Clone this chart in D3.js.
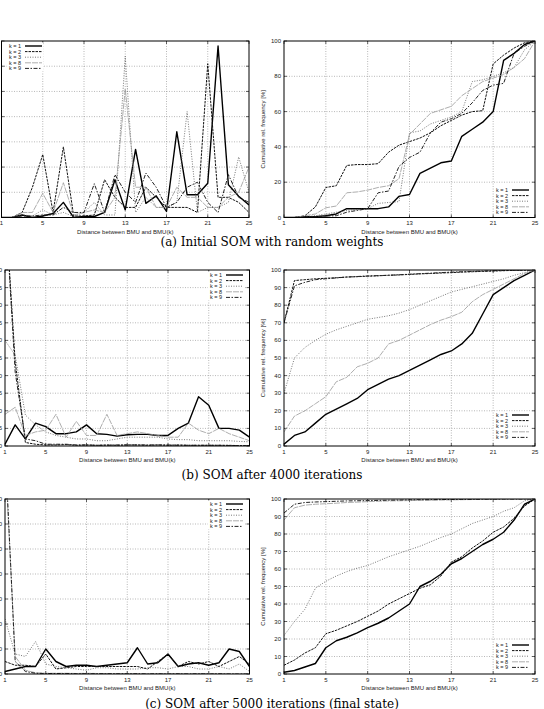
<!DOCTYPE html>
<html>
<head>
<meta charset="utf-8">
<script src="https://cdn.jsdelivr.net/npm/d3@7"></script>
<style>
  body { margin: 0; background: #fff; }
  svg { display: block; }
</style>
</head>
<body>
<script>
const width = 544;
const height = 709;

const distances = [1, 2, 3, 4, 5, 6, 7, 8, 9, 10, 11, 12, 13, 14, 15, 16, 17, 18, 19, 20, 21, 22, 23, 24, 25];
const xTicks = [1, 5, 9, 13, 17, 21, 25];
const seriesNames = ["k = 1", "k = 2", "k = 3", "k = 8", "k = 9"];

// (a) initial SOM, relative frequency [%]
const initFreq = [
  [0, 0, 0.5, 0, 0.3, 0.8, 3, 0, 0.2, 0.2, 1, 7.5, 1.5, 13.5, 2.8, 4.3, 1.2, 17, 4.5, 4.5, 6.8, 34, 6.5, 4.2, 2.5],
  [0, 0, 1, 6, 12.5, 1, 14, 0.3, 0.3, 0.5, 7.5, 4, 2, 2, 6, 4, 2, 2, 2, 1, 30.5, 4, 4, 3, 1],
  [0, 0, 0.5, 0.3, 1.5, 0.5, 1, 0.2, 1, 3, 0.5, 0.5, 32, 1, 4, 2, 2, 3, 21, 1, 2, 2, 3, 12, 5],
  [0, 0, 1, 1, 4.8, 1, 6.9, 0.5, 1, 1.5, 1, 4, 25.5, 6, 6, 2, 2, 6, 4, 4, 2, 2, 4, 5, 10],
  [0, 0, 0.3, 0.3, 0.5, 0.5, 2, 1, 1, 6.7, 1, 8.5, 5, 3, 8.8, 6, 2, 3, 6, 7, 3, 1, 8.5, 4, 3]
];
const initCum = [
  [0, 0, 0.5, 0.5, 1, 2, 5, 5, 5, 5, 6, 12, 13, 25, 28, 31, 32, 46, 50, 54, 60, 89, 93, 98, 100],
  [0, 0, 1, 6, 17, 18, 29.5, 30, 30, 30.5, 37, 41, 43, 45, 48, 52, 55, 58, 60, 60.5, 87, 92, 96, 99, 100],
  [0, 0, 0.5, 1, 2, 3, 4, 4.5, 5, 8, 8.5, 9, 48, 49, 53, 55, 57, 60, 77, 78, 80, 82, 85, 95, 100],
  [0, 0, 1, 2, 5.5, 6.5, 14, 14.5, 15.5, 17, 18, 22, 47, 53, 59, 61, 63, 69, 73, 77, 79, 81, 85, 90, 100],
  [0, 0, 0.3, 0.5, 0.8, 1, 3, 4, 5, 14, 15, 29, 34, 37, 48, 54, 56, 59, 65, 72, 75, 76, 93, 97, 100]
];

// (b) after 4000 iterations
const midFreq = [
  [0.5, 6, 2, 6.5, 5.5, 3.5, 3.5, 4, 6, 3.5, 3.3, 2.8, 3.2, 3.3, 3.3, 3, 3, 5, 6.5, 14, 11.6, 5, 5, 4.5, 2.5],
  [70, 24, 1, 0.5, 0.3, 0.3, 0.4, 0.2, 0.3, 0.2, 0.3, 0.2, 0.3, 0.3, 0.2, 0.3, 0.2, 0.3, 0.2, 0.2, 0.2, 0.2, 0.2, 0.1, 0.1],
  [30, 25.8, 8.8, 6, 4, 3, 2.5, 2, 2, 1.5, 1.5, 2, 2.5, 2.5, 2.5, 2.5, 2, 1.8, 1.8, 1.5, 1.5, 1.5, 1.5, 1.3, 1.2],
  [9, 11, 3, 4, 4.5, 9, 2.5, 7, 3, 3, 9, 3, 3.5, 4, 3.5, 3, 2.5, 2.5, 6.5, 4.5, 3.5, 5, 3.5, 2.5, 1.5],
  [70, 21, 2, 1.5, 0.5, 0.5, 0.5, 0.3, 0.3, 0.2, 0.2, 0.3, 0.3, 0.3, 0.3, 0.3, 0.3, 0.2, 0.2, 0.2, 0.2, 0.2, 0.1, 0.1, 0]
];
const midCum = [
  [1, 6, 8, 13, 18, 21, 24, 27, 32, 35, 38, 40, 43, 46, 49, 52, 54, 58, 64, 75, 86, 90, 94, 97, 100],
  [70, 94, 94.5, 95, 95.3, 95.6, 96, 96.2, 96.5, 96.7, 97, 97.2, 97.5, 97.8, 98, 98.3, 98.5, 98.8, 99, 99.2, 99.4, 99.6, 99.8, 99.9, 100],
  [30, 50, 56, 60, 63.5, 66, 68, 70, 72, 73, 74, 75.5, 77.5, 80, 82.5, 85, 87.5, 89, 90.5, 92, 93.5, 95, 97, 98.5, 100],
  [8, 17, 20, 24, 28, 36.5, 39, 45, 47, 50, 58, 60, 63, 66, 69, 71.5, 73.5, 76, 82, 86, 89, 92, 95, 98, 100],
  [70, 91, 93, 94.5, 95, 95.5, 96, 96.3, 96.6, 96.8, 97, 97.3, 97.6, 97.9, 98.2, 98.5, 98.8, 99, 99.2, 99.4, 99.6, 99.8, 99.9, 100, 100]
];

// (c) after 5000 iterations
const finalFreq = [
  [1, 2, 3, 3, 10, 5, 3, 3.5, 3.5, 3, 3.5, 4, 4.5, 10.5, 4, 4.5, 8, 3, 4, 4.5, 3.5, 4.5, 10, 9, 3],
  [5, 3.5, 3.5, 3, 8, 2, 2.5, 3, 3, 3, 3, 3, 3, 3, 2, 5, 8, 3, 5, 4, 5, 3, 5, 7, 4],
  [22, 8, 7, 13, 4, 3, 2.5, 2, 1.5, 2.5, 2.5, 2, 2, 2, 2.5, 2.5, 2, 3, 3, 2, 2, 3, 2, 4, 1],
  [88, 7, 1.5, 0.5, 0.3, 0.3, 0.3, 0.2, 0.3, 0.2, 0.2, 0.1, 0.1, 0.1, 0.1, 0.1, 0.1, 0.1, 0.1, 0.1, 0.1, 0, 0.1, 0, 0],
  [92, 5, 1, 0.3, 0.2, 0.2, 0.2, 0.1, 0.1, 0.1, 0.1, 0.1, 0.1, 0.1, 0, 0.1, 0, 0.1, 0, 0.1, 0, 0.1, 0, 0, 0]
];
const finalCum = [
  [1, 2, 4, 6, 15, 19, 21, 23.5, 26.5, 29, 32, 36, 40, 50, 53, 57, 63, 66, 70, 74, 77, 81, 88, 97, 100],
  [5, 8, 12, 15, 23, 25, 27.5, 30, 33, 36, 40, 43, 46, 49, 51, 56, 64, 67, 72, 76, 81, 84, 89, 96, 100],
  [22, 30, 37, 49, 53, 56, 58.5, 60.5, 62, 64.5, 67, 69, 71, 73, 75.5, 78, 80, 83, 86, 88, 90, 93, 95, 99, 100],
  [88, 95, 96.5, 97, 97.3, 97.6, 98, 98.2, 98.5, 98.7, 98.9, 99, 99.1, 99.2, 99.3, 99.4, 99.5, 99.6, 99.7, 99.8, 99.9, 99.9, 100, 100, 100],
  [92, 97, 98, 98.3, 98.5, 98.7, 98.9, 99, 99.1, 99.2, 99.3, 99.4, 99.5, 99.6, 99.6, 99.7, 99.7, 99.8, 99.8, 99.9, 99.9, 100, 100, 100, 100]
];

const captions = [
  "(a) Initial SOM with random weights",
  "(b) SOM after 4000 iterations",
  "(c) SOM after 5000 iterations (final state)"
];

// gnuplot-like monochrome line styles, one per k
const lineStyles = [
  { stroke: "#000", width: 1.4, dash: null },
  { stroke: "#111", width: 1.0, dash: "2.5,1" },
  { stroke: "#555", width: 0.8, dash: "1,1.5" },
  { stroke: "#999", width: 0.8, dash: "6,1" },
  { stroke: "#222", width: 1.0, dash: "4,1.5,1.5,1.5" }
];

const font = "'Liberation Sans', Arial, sans-serif";

const svg = d3.select("body").append("svg")
  .attr("width", width)
  .attr("height", height);

let clipId = 0;

const drawPanel = (p) => {
  const x = d3.scaleLinear().domain([1, 25]).range([p.left, p.right]);
  const y = d3.scaleLinear().domain([0, p.yMax]).range([p.bottom, p.top]);
  const yTicks = d3.range(0, p.yMax + 0.001, p.yStep);
  const g = svg.append("g");

  // grid
  g.append("g").selectAll("line.gx")
    .data(xTicks.slice(1, -1))
    .join("line")
    .attr("x1", d => x(d)).attr("x2", d => x(d))
    .attr("y1", p.top).attr("y2", p.bottom)
    .attr("stroke", "#888").attr("stroke-width", 0.6)
    .attr("stroke-dasharray", "1,1.5");
  g.append("g").selectAll("line.gy")
    .data(yTicks.slice(1, -1))
    .join("line")
    .attr("x1", p.left).attr("x2", p.right)
    .attr("y1", d => y(d)).attr("y2", d => y(d))
    .attr("stroke", "#888").attr("stroke-width", 0.6)
    .attr("stroke-dasharray", "1,1.5");

  // tick marks on all sides (inward)
  const tk = g.append("g").attr("stroke", "#000").attr("stroke-width", 0.6);
  xTicks.forEach(d => {
    tk.append("line").attr("x1", x(d)).attr("x2", x(d)).attr("y1", p.bottom).attr("y2", p.bottom - 3);
    tk.append("line").attr("x1", x(d)).attr("x2", x(d)).attr("y1", p.top).attr("y2", p.top + 3);
  });
  yTicks.forEach(d => {
    tk.append("line").attr("x1", p.left).attr("x2", p.left + 3).attr("y1", y(d)).attr("y2", y(d));
    tk.append("line").attr("x1", p.right).attr("x2", p.right - 3).attr("y1", y(d)).attr("y2", y(d));
  });

  // tick labels
  g.append("g").selectAll("text")
    .data(xTicks)
    .join("text")
    .attr("x", d => x(d))
    .attr("y", p.bottom + 7.5)
    .attr("text-anchor", "middle")
    .attr("font-family", font).attr("font-size", 6).attr("fill", "#222")
    .text(d => d);
  g.append("g").selectAll("text")
    .data(yTicks)
    .join("text")
    .attr("x", p.left - 3)
    .attr("y", d => y(d) + 2)
    .attr("text-anchor", "end")
    .attr("font-family", font).attr("font-size", 6).attr("fill", "#222")
    .text(d => d);

  // axis titles
  g.append("text")
    .attr("x", (p.left + p.right) / 2)
    .attr("y", p.bottom + 16)
    .attr("text-anchor", "middle")
    .attr("font-family", font).attr("font-size", 6).attr("fill", "#222")
    .text("Distance between BMU and BMU(k)");
  const yc = (p.top + p.bottom) / 2;
  g.append("text")
    .attr("transform", `translate(${p.left - 19},${yc}) rotate(-90)`)
    .attr("text-anchor", "middle")
    .attr("font-family", font).attr("font-size", 6).attr("fill", "#222")
    .text(p.yTitle);

  // lines
  const id = "clip" + (clipId++);
  svg.append("clipPath").attr("id", id)
    .append("rect")
    .attr("x", p.left).attr("y", p.top)
    .attr("width", p.right - p.left).attr("height", p.bottom - p.top);
  const line = d3.line().x((d, i) => x(distances[i])).y(d => y(d));
  const lg = g.append("g").attr("clip-path", `url(#${id})`);
  p.series.forEach((s, i) => {
    const st = lineStyles[i];
    lg.append("path")
      .attr("d", line(s))
      .attr("fill", "none")
      .attr("stroke", st.stroke)
      .attr("stroke-width", st.width)
      .attr("stroke-dasharray", st.dash)
      .attr("stroke-linejoin", "round");
  });

  // legend with white background
  const leg = g.append("g").attr("transform", `translate(${p.legX},${p.legY})`);
  leg.append("rect")
    .attr("x", -2).attr("y", -3.5)
    .attr("width", 36).attr("height", 5.6 * seriesNames.length + 1)
    .attr("fill", "#fff");
  seriesNames.forEach((name, i) => {
    const st = lineStyles[i];
    leg.append("text")
      .attr("x", 0).attr("y", i * 5.6 + 2)
      .attr("font-family", font).attr("font-size", 5.5).attr("fill", "#222")
      .text(name);
    leg.append("line")
      .attr("x1", 16).attr("x2", 33)
      .attr("y1", i * 5.6).attr("y2", i * 5.6)
      .attr("stroke", st.stroke)
      .attr("stroke-width", st.width)
      .attr("stroke-dasharray", st.dash);
  });

  // frame
  g.append("rect")
    .attr("x", p.left).attr("y", p.top)
    .attr("width", p.right - p.left).attr("height", p.bottom - p.top)
    .attr("fill", "none").attr("stroke", "#000").attr("stroke-width", 1);
};

const cumTitle = "Cumulative rel. frequency [%]";
const freqTitle = "Relative frequency [%]";

drawPanel({ left: 1.5, right: 249, top: 41, bottom: 217.5, yMax: 35, yStep: 5,
  series: initFreq, legX: 9, legY: 46, yTitle: freqTitle });
drawPanel({ left: 284, right: 535, top: 41, bottom: 217.5, yMax: 100, yStep: 20,
  series: initCum, legX: 496, legY: 190, yTitle: cumTitle });
drawPanel({ left: 5, right: 249.5, top: 270, bottom: 446, yMax: 50, yStep: 5,
  series: midFreq, legX: 210, legY: 275, yTitle: freqTitle });
drawPanel({ left: 284, right: 535, top: 270, bottom: 446, yMax: 100, yStep: 10,
  series: midCum, legX: 496, legY: 415, yTitle: cumTitle });
drawPanel({ left: 5, right: 249.5, top: 499, bottom: 674, yMax: 70, yStep: 10,
  series: finalFreq, legX: 210, legY: 504, yTitle: freqTitle });
drawPanel({ left: 284, right: 535, top: 499, bottom: 674, yMax: 100, yStep: 10,
  series: finalCum, legX: 496, legY: 645, yTitle: cumTitle });

// captions
svg.append("g").selectAll("text")
  .data(captions)
  .join("text")
  .attr("x", 272)
  .attr("y", (d, i) => [246, 479, 708][i])
  .attr("text-anchor", "middle")
  .attr("font-family", "'DejaVu Serif', 'Liberation Serif', serif")
  .attr("font-size", 12)
  .attr("fill", "#000")
  .text(d => d);
</script>
</body>
</html>
